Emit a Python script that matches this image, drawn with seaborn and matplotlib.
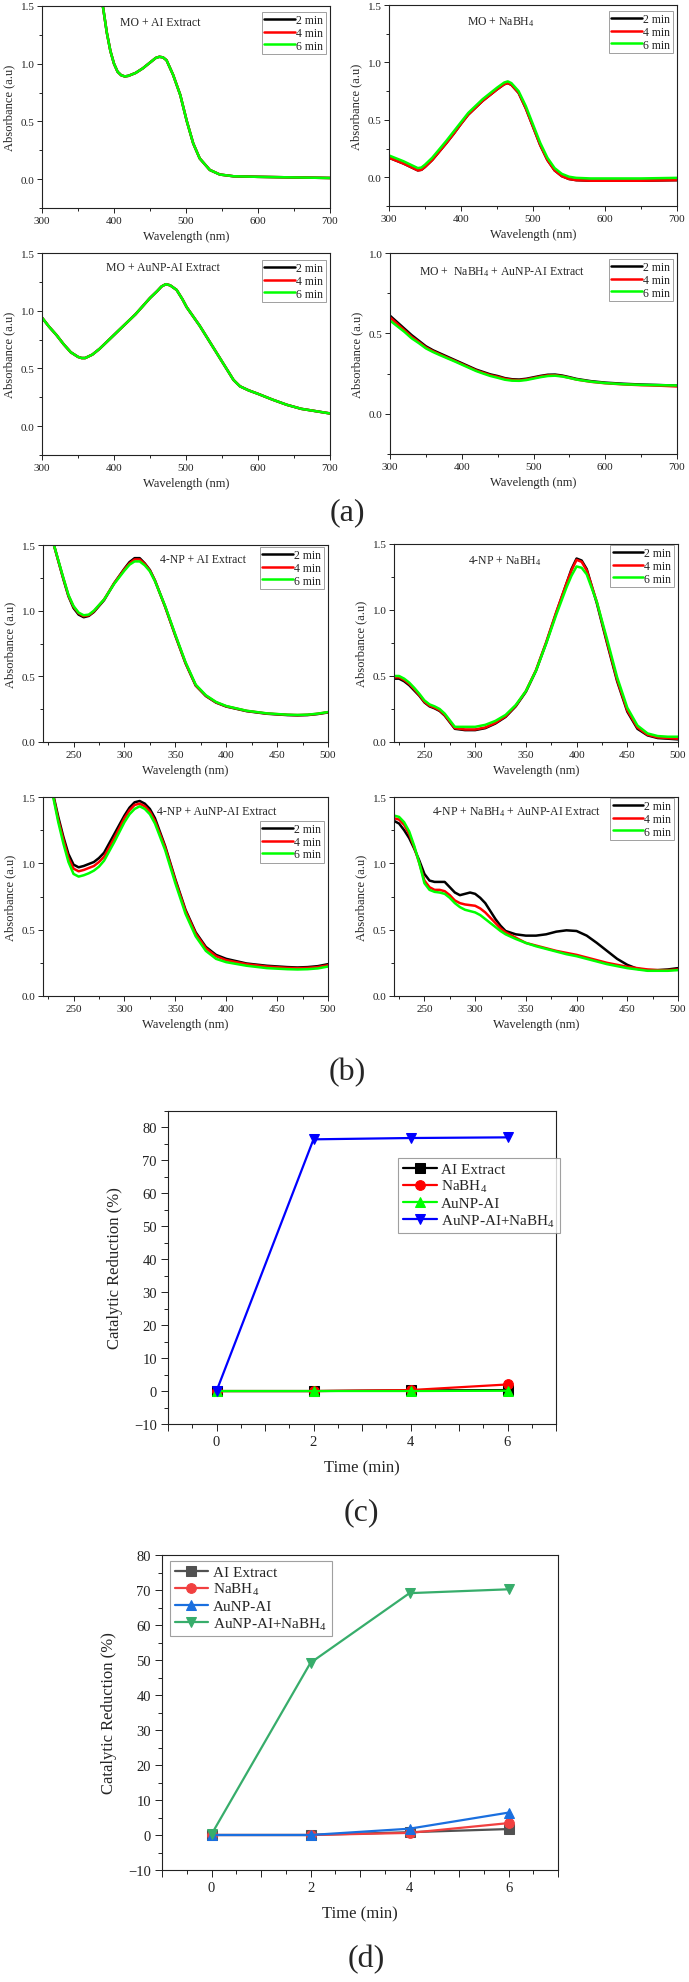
import numpy as np
import pandas as pd
import matplotlib.pyplot as plt
from matplotlib.ticker import MultipleLocator, FormatStrFormatter, FuncFormatter
import seaborn as sns

sns.set_style("ticks")
plt.rcParams['font.family'] = ['Liberation Serif', 'DejaVu Serif']
plt.rcParams['mathtext.default'] = 'regular'

W, H = 689, 1983

# ---------------- data : (a) methyl orange spectra ----------------
times = ['2 min', '4 min', '6 min']
spec_colors = ['#000000', '#ff0000', '#00ff00']

a1_wl = [378, 385, 390, 395, 400, 405, 410, 415, 420, 430, 440, 450, 458, 463, 468, 473,
         482, 492, 501, 510, 519, 533, 547, 566, 600, 650, 700]
a1_abs = [1.72, 1.48, 1.27, 1.11, 1.00, 0.93, 0.90, 0.89, 0.895, 0.92, 0.96, 1.01, 1.05, 1.06,
          1.055, 1.03, 0.905, 0.73, 0.505, 0.31, 0.18, 0.08, 0.04, 0.025, 0.02, 0.015, 0.01]

a2_wl = [300, 310, 320, 330, 340, 345, 350, 360, 370, 380, 390, 400, 410, 420, 430, 440, 450,
         460, 465, 470, 480, 490, 500, 510, 520, 530, 540, 550, 560, 580, 600, 650, 700]
a2_2min = [0.17, 0.145, 0.12, 0.09, 0.06, 0.065, 0.09, 0.15, 0.225, 0.30, 0.38, 0.465, 0.545,
           0.605, 0.665, 0.715, 0.765, 0.81, 0.82, 0.805, 0.735, 0.60, 0.44, 0.28, 0.15, 0.06,
           0.01, -0.015, -0.025, -0.03, -0.03, -0.03, -0.025]
a2_4min = [0.17, 0.145, 0.12, 0.09, 0.06, 0.065, 0.09, 0.15, 0.225, 0.30, 0.38, 0.465, 0.545,
           0.605, 0.665, 0.715, 0.765, 0.81, 0.82, 0.805, 0.735, 0.60, 0.44, 0.28, 0.15, 0.06,
           0.01, -0.015, -0.025, -0.03, -0.03, -0.03, -0.025]
a2_6min = [0.19, 0.165, 0.14, 0.11, 0.08, 0.085, 0.11, 0.17, 0.245, 0.32, 0.40, 0.48, 0.56,
           0.62, 0.68, 0.73, 0.78, 0.825, 0.835, 0.82, 0.75, 0.62, 0.46, 0.30, 0.17, 0.08,
           0.03, 0.005, -0.005, -0.01, -0.01, -0.01, -0.005]

a3_wl = [300, 310, 320, 330, 340, 350, 355, 360, 370, 380, 390, 400, 410, 420, 430, 440, 450,
         460, 466, 472, 478, 487, 495, 501, 510, 519, 528, 538, 547, 556, 566, 575, 587, 600,
         620, 640, 660, 680, 700]
a3_abs = [0.94, 0.86, 0.79, 0.71, 0.64, 0.60, 0.59, 0.59, 0.62, 0.67, 0.73, 0.79, 0.85, 0.91,
          0.97, 1.04, 1.11, 1.17, 1.21, 1.23, 1.22, 1.18, 1.10, 1.03, 0.95, 0.87, 0.78, 0.68,
          0.59, 0.50, 0.40, 0.345, 0.31, 0.28, 0.23, 0.185, 0.15, 0.13, 0.11]

a4_wl = [300, 310, 320, 330, 340, 350, 360, 370, 380, 390, 400, 410, 420, 430, 440, 450, 460,
         470, 480, 490, 500, 510, 520, 530, 540, 550, 560, 580, 600, 625, 650, 675, 700]
a4_2min = [0.61, 0.57, 0.53, 0.49, 0.455, 0.42, 0.395, 0.375, 0.355, 0.335, 0.315, 0.295, 0.275,
           0.26, 0.245, 0.235, 0.222, 0.215, 0.213, 0.218, 0.227, 0.236, 0.243, 0.244, 0.238,
           0.228, 0.217, 0.203, 0.194, 0.187, 0.182, 0.179, 0.175]
a4_4min = [0.60, 0.56, 0.52, 0.48, 0.447, 0.413, 0.389, 0.369, 0.349, 0.33, 0.31, 0.29, 0.27,
           0.255, 0.24, 0.23, 0.218, 0.211, 0.209, 0.214, 0.223, 0.232, 0.239, 0.24, 0.234,
           0.224, 0.213, 0.199, 0.19, 0.183, 0.178, 0.175, 0.17]
a4_6min = [0.58, 0.545, 0.51, 0.47, 0.44, 0.407, 0.384, 0.364, 0.345, 0.326, 0.306, 0.286, 0.266,
           0.25, 0.235, 0.224, 0.212, 0.206, 0.205, 0.21, 0.219, 0.228, 0.235, 0.237, 0.232,
           0.223, 0.213, 0.2, 0.191, 0.184, 0.18, 0.178, 0.176]

# ---------------- data : (b) 4-nitrophenol spectra ----------------
b1_wl = [222, 230, 235, 240, 245, 250, 255, 260, 265, 270, 280, 290, 300, 305, 310, 315, 320,
         325, 330, 340, 350, 360, 370, 380, 390, 400, 420, 440, 460, 470, 480, 490, 500]
b1_2min = [1.75, 1.52, 1.38, 1.24, 1.11, 1.02, 0.97, 0.95, 0.96, 0.99, 1.08, 1.21, 1.32, 1.37,
           1.40, 1.40, 1.36, 1.31, 1.23, 1.03, 0.81, 0.60, 0.43, 0.35, 0.30, 0.27, 0.235, 0.215,
           0.205, 0.203, 0.205, 0.213, 0.225]
b1_4min = [1.75, 1.52, 1.38, 1.245, 1.115, 1.03, 0.98, 0.958, 0.965, 0.995, 1.085, 1.21, 1.315,
           1.36, 1.39, 1.39, 1.355, 1.305, 1.228, 1.03, 0.812, 0.602, 0.432, 0.352, 0.302, 0.272,
           0.237, 0.217, 0.207, 0.205, 0.207, 0.215, 0.227]
b1_6min = [1.75, 1.52, 1.385, 1.25, 1.12, 1.035, 0.985, 0.965, 0.97, 1.0, 1.085, 1.205, 1.305,
           1.35, 1.375, 1.375, 1.345, 1.3, 1.225, 1.035, 0.818, 0.608, 0.437, 0.356, 0.305,
           0.274, 0.238, 0.218, 0.208, 0.206, 0.208, 0.216, 0.228]

b2_wl = [220, 225, 230, 235, 240, 245, 250, 255, 260, 265, 270, 275, 280, 290, 300, 310, 320,
         330, 340, 350, 360, 370, 380, 390, 395, 400, 405, 410, 420, 430, 440, 450, 460, 470,
         480, 490, 500]
b2_2min = [0.48, 0.48, 0.46, 0.43, 0.39, 0.35, 0.30, 0.27, 0.255, 0.235, 0.20, 0.15, 0.10, 0.09,
           0.09, 0.105, 0.14, 0.19, 0.27, 0.38, 0.54, 0.75, 0.98, 1.20, 1.31, 1.39, 1.375, 1.31,
           1.05, 0.75, 0.46, 0.23, 0.10, 0.05, 0.03, 0.025, 0.02]
b2_4min = [0.49, 0.49, 0.47, 0.44, 0.40, 0.355, 0.305, 0.275, 0.26, 0.24, 0.205, 0.155, 0.105,
           0.095, 0.095, 0.11, 0.145, 0.195, 0.275, 0.385, 0.545, 0.755, 0.985, 1.20, 1.30, 1.38,
           1.365, 1.30, 1.06, 0.76, 0.47, 0.24, 0.11, 0.055, 0.035, 0.03, 0.025]
b2_6min = [0.50, 0.50, 0.48, 0.45, 0.41, 0.365, 0.315, 0.285, 0.27, 0.25, 0.215, 0.165, 0.115,
           0.115, 0.115, 0.13, 0.16, 0.205, 0.28, 0.385, 0.54, 0.745, 0.965, 1.17, 1.26, 1.33,
           1.32, 1.27, 1.06, 0.78, 0.49, 0.26, 0.125, 0.065, 0.045, 0.04, 0.04]

b3_wl = [222, 230, 235, 240, 245, 250, 255, 260, 265, 270, 275, 280, 290, 300, 305, 310, 315,
         320, 325, 330, 340, 350, 360, 370, 380, 390, 400, 420, 440, 460, 470, 480, 490, 500]
b3_2min = [1.80, 1.52, 1.35, 1.20, 1.07, 0.99, 0.97, 0.98, 0.995, 1.01, 1.04, 1.08, 1.22, 1.36,
           1.42, 1.46, 1.47, 1.45, 1.41, 1.34, 1.13, 0.88, 0.65, 0.48, 0.37, 0.31, 0.28, 0.245,
           0.228, 0.218, 0.215, 0.218, 0.225, 0.24]
b3_4min = [1.80, 1.51, 1.33, 1.18, 1.04, 0.96, 0.94, 0.95, 0.965, 0.98, 1.01, 1.05, 1.19, 1.34,
           1.40, 1.44, 1.45, 1.43, 1.39, 1.32, 1.12, 0.87, 0.64, 0.47, 0.36, 0.30, 0.27, 0.24,
           0.222, 0.212, 0.21, 0.212, 0.218, 0.232]
b3_6min = [1.80, 1.50, 1.31, 1.15, 1.01, 0.92, 0.90, 0.91, 0.925, 0.945, 0.975, 1.02, 1.16, 1.31,
           1.37, 1.41, 1.43, 1.41, 1.37, 1.30, 1.10, 0.85, 0.62, 0.45, 0.34, 0.28, 0.255, 0.228,
           0.21, 0.202, 0.20, 0.202, 0.208, 0.222]

b4_wl = [220, 225, 230, 235, 240, 245, 250, 255, 260, 265, 270, 275, 280, 285, 290, 295, 300,
         305, 310, 315, 320, 325, 330, 340, 350, 360, 370, 380, 390, 400, 410, 420, 430, 440,
         450, 460, 470, 480, 490, 500]
b4_2min = [1.32, 1.30, 1.25, 1.19, 1.11, 1.02, 0.92, 0.87, 0.86, 0.86, 0.86, 0.82, 0.78, 0.76,
           0.77, 0.78, 0.77, 0.74, 0.70, 0.64, 0.58, 0.53, 0.49, 0.465, 0.455, 0.455, 0.465,
           0.485, 0.495, 0.49, 0.455, 0.40, 0.34, 0.28, 0.235, 0.205, 0.195, 0.195, 0.20, 0.21]
b4_4min = [1.34, 1.33, 1.29, 1.22, 1.12, 1.0, 0.87, 0.82, 0.80, 0.80, 0.79, 0.76, 0.72, 0.70,
           0.69, 0.685, 0.68, 0.66, 0.63, 0.59, 0.55, 0.51, 0.48, 0.44, 0.40, 0.38, 0.36, 0.34,
           0.325, 0.31, 0.29, 0.27, 0.25, 0.235, 0.22, 0.21, 0.2, 0.195, 0.195, 0.20]
b4_6min = [1.36, 1.35, 1.31, 1.24, 1.13, 1.0, 0.85, 0.80, 0.785, 0.78, 0.77, 0.74, 0.70, 0.67,
           0.65, 0.64, 0.63, 0.61, 0.58, 0.55, 0.52, 0.49, 0.465, 0.43, 0.40, 0.375, 0.355,
           0.335, 0.315, 0.30, 0.28, 0.26, 0.24, 0.225, 0.21, 0.20, 0.19, 0.19, 0.19, 0.195]

# ---------------- data : (c) MO and (d) 4-NP catalytic reduction ----------------
time_min = [0, 2, 4, 6]
series_names = ['AI Extract', 'NaBH$_4$', 'AuNP-AI', 'AuNP-AI+NaBH$_4$']
series_markers = ['s', 'o', '^', 'v']

c_ai = [0, 0, 0.2, 0.3]
c_nabh4 = [0, 0, 0.3, 2.0]
c_aunp = [0, 0, 0, 0.1]
c_aunp_nabh4 = [0, 76.4, 76.8, 77.0]
c_colors = ['#000000', '#ff0000', '#00ff00', '#0000ff']

d_ai = [0, 0, 0.8, 1.7]
d_nabh4 = [0, 0, 0.6, 3.4]
d_aunp = [0, 0, 1.8, 6.4]
d_aunp_nabh4 = [0.2, 49.2, 69.1, 70.2]
d_colors = ['#515151', '#f14040', '#1a6fdf', '#37ad6b']

fig = plt.figure(figsize=(W / 100, H / 100), dpi=100)


def add_ax(l, t, r, b):
    return fig.add_axes([l / W, 1 - b / H, (r - l) / W, (b - t) / H])


def frame(ax, lsize):
    for s in ax.spines.values():
        s.set_visible(True)
        s.set_linewidth(0.8)
        s.set_color('#222222')
    ax.tick_params(which='both', direction='out', top=False, right=False,
                   width=0.7, colors='#222222', labelsize=lsize)
    ax.tick_params(which='major', length=3.5, pad=2)
    ax.tick_params(which='minor', length=2)
    ax.grid(False)


def spectrum(box, wl, curves, note, note_xy, xlim, ylim, xstep, leg_y):
    ax = add_ax(*box)
    for lab, col, vals in zip(times, spec_colors, curves):
        sns.lineplot(x=wl, y=vals, color=col, lw=1.8, label=lab, ax=ax,
                     estimator=None, sort=False)
    ax.set_xlim(*xlim)
    ax.set_ylim(*ylim)
    ax.xaxis.set_major_locator(MultipleLocator(xstep))
    ax.xaxis.set_minor_locator(MultipleLocator(xstep / 2))
    ax.yaxis.set_major_locator(MultipleLocator(0.5))
    ax.yaxis.set_minor_locator(MultipleLocator(0.25))
    ax.yaxis.set_major_formatter(FormatStrFormatter('%.1f'))
    frame(ax, 8)
    ax.set_xlabel('Wavelength (nm)', fontsize=9, labelpad=4)
    ax.set_ylabel('Absorbance (a.u)', fontsize=9, labelpad=4)
    ax.text(note_xy[0], note_xy[1], note, transform=ax.transAxes, ha='center',
            va='center', fontsize=8.5)
    leg = ax.legend(loc='upper right', bbox_to_anchor=(0.985, leg_y), borderaxespad=0,
                    fontsize=8.5, frameon=True, fancybox=False, edgecolor='#888888',
                    handlelength=2.6, handletextpad=0.1, labelspacing=0.05,
                    borderpad=0.2)
    leg.get_frame().set_linewidth(0.7)
    return ax


# (a)
spectrum((42, 7, 330, 209), a1_wl, [a1_abs, a1_abs, a1_abs], 'MO + AI Extract',
         (0.41, 0.92), (300, 700), (-0.25, 1.5), 100, 0.97)
spectrum((389, 6, 677, 207), a2_wl, [a2_2min, a2_4min, a2_6min], 'MO + NaBH$_4$',
         (0.39, 0.92), (300, 700), (-0.25, 1.5), 100, 0.97)
spectrum((42, 254, 330, 456), a3_wl, [a3_abs, a3_abs, a3_abs], 'MO + AuNP-AI Extract',
         (0.42, 0.93), (300, 700), (-0.25, 1.5), 100, 0.965)
spectrum((390, 254, 677, 455), a4_wl, [a4_2min, a4_4min, a4_6min],
         'MO +  NaBH$_4$ + AuNP-AI Extract', (0.39, 0.91), (300, 700), (-0.25, 1.0), 100,
         0.97)

# (b)
spectrum((43, 546, 328, 743), b1_wl, [b1_2min, b1_4min, b1_6min], '4-NP + AI Extract',
         (0.56, 0.93), (220, 500), (0, 1.5), 50, 0.99)
spectrum((394, 545, 678, 743), b2_wl, [b2_2min, b2_4min, b2_6min], '4-NP + NaBH$_4$',
         (0.39, 0.92), (220, 500), (0, 1.5), 50, 0.995)
spectrum((43, 798, 328, 997), b3_wl, [b3_2min, b3_4min, b3_6min], '4-NP + AuNP-AI Extract',
         (0.61, 0.93), (220, 500), (0, 1.5), 50, 0.88)
spectrum((394, 798, 678, 997), b4_wl, [b4_2min, b4_4min, b4_6min],
         '4-NP + NaBH$_4$ + AuNP-AI Extract', (0.43, 0.93), (220, 500), (0, 1.5), 50, 0.995)


def kinetics(box, series, colors, ylim, leg_loc, leg_anchor):
    ax = add_ax(*box)
    for name, mk, col, vals in zip(series_names, series_markers, colors, series):
        sns.lineplot(x=time_min, y=vals, color=col, lw=1.6, marker=mk, markersize=7,
                     markeredgecolor=col, label=name, ax=ax, estimator=None, sort=False)
    ax.set_xlim(-1, 7)
    ax.set_ylim(*ylim)
    ax.xaxis.set_major_locator(MultipleLocator(1))
    ax.xaxis.set_minor_locator(MultipleLocator(0.5))
    ax.xaxis.set_major_formatter(FuncFormatter(
        lambda v, p: '%d' % round(v) if round(v) in time_min else ''))
    ax.yaxis.set_major_locator(MultipleLocator(10))
    ax.yaxis.set_minor_locator(MultipleLocator(5))
    frame(ax, 10.5)
    ax.tick_params(which='major', length=5, pad=3)
    ax.tick_params(which='minor', length=3)
    ax.set_xlabel('Time (min)', fontsize=12, labelpad=8)
    ax.set_ylabel('Catalytic Reduction (%)', fontsize=12, labelpad=8)
    leg = ax.legend(loc=leg_loc, bbox_to_anchor=leg_anchor, borderaxespad=0, fontsize=11,
                    frameon=True, fancybox=False, edgecolor='#888888', handlelength=2.2,
                    handletextpad=0.3, labelspacing=0.15, borderpad=0.3)
    leg.get_frame().set_linewidth(0.8)
    return ax


kinetics((168, 1112, 556, 1425), [c_ai, c_nabh4, c_aunp, c_aunp_nabh4], c_colors,
         (-10, 85), 'upper left', (0.594, 0.851))
kinetics((162, 1556, 558, 1871), [d_ai, d_nabh4, d_aunp, d_aunp_nabh4], d_colors,
         (-10, 80), 'upper left', (0.02, 0.982))

# panel letters
for letter, (px, py) in zip(['(a)', '(b)', '(c)', '(d)'],
                            [(347, 513), (347, 1073), (361, 1513), (366, 1960)]):
    fig.text(px / W, 1 - py / H, letter, ha='center', va='center', fontsize=23)

fig.savefig('out.png', dpi=100)
